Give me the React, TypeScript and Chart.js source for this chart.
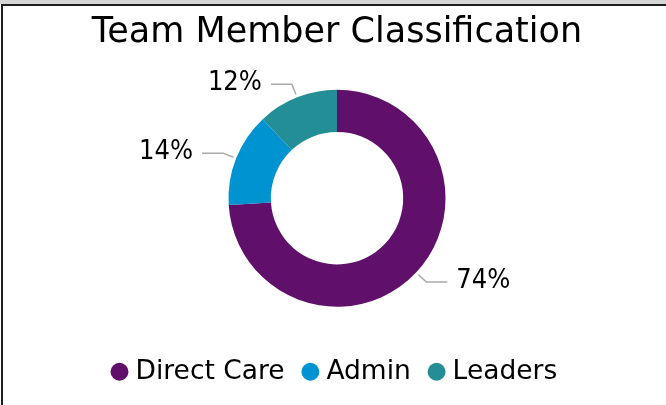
import React, { useEffect, useRef } from 'react';
import { Chart, registerables } from 'chart.js';

Chart.register(...registerables);

const categories = ['Direct Care', 'Admin', 'Leaders'];
const values = [74, 14, 12];
const colors = ['#60106A', '#0093D1', '#238E96'];
const titleText = 'Team Member Classification';

const FONT = '"DejaVu Sans", sans-serif';
const FONT_COND = '"DejaVu Sans Condensed", "DejaVu Sans", sans-serif';

const leaderPlugin = {
  id: 'leaderLabels',
  afterDatasetsDraw(chart: any) {
    const ctx = chart.ctx;
    const meta = chart.getDatasetMeta(0);
    const data = chart.data.datasets[0].data;
    ctx.save();
    meta.data.forEach((arc: any, i: number) => {
      const { x, y, startAngle, endAngle, outerRadius } = arc.getProps(
        ['x', 'y', 'startAngle', 'endAngle', 'outerRadius'],
        true
      );
      const mid = (startAngle + endAngle) / 2;
      const cos = Math.cos(mid);
      const sin = Math.sin(mid);
      const sx = x + cos * (outerRadius + 3);
      const sy = y + sin * (outerRadius + 3);
      const ex = x + cos * (outerRadius + 14);
      const ey = y + sin * (outerRadius + 14);
      const right = cos >= 0;
      const hx = ex + (right ? 21 : -21);
      ctx.strokeStyle = '#aaaaaa';
      ctx.lineWidth = 1.5;
      ctx.beginPath();
      ctx.moveTo(sx, sy);
      ctx.lineTo(ex, ey);
      ctx.lineTo(hx, ey);
      ctx.stroke();
      ctx.font = `27px ${FONT_COND}`;
      ctx.fillStyle = '#000';
      ctx.textAlign = right ? 'left' : 'right';
      ctx.textBaseline = 'middle';
      ctx.fillText(`${data[i]}%`, hx + (right ? 9 : -9), ey - 1.5);
    });
    ctx.restore();
  },
};

export default function App() {
  const canvasRef = useRef<HTMLCanvasElement | null>(null);

  useEffect(() => {
    document.body.style.margin = '0';
    const canvas = canvasRef.current;
    if (!canvas) return;
    const chart = new Chart(canvas, {
      type: 'doughnut',
      data: {
        labels: categories,
        datasets: [
          {
            data: values,
            backgroundColor: colors,
            borderWidth: 0,
            radius: 108.5,
            cutout: '61%',
          } as any,
        ],
      },
      options: {
        animation: false,
        responsive: false,
        maintainAspectRatio: false,
        layout: { padding: { left: 8, right: 0, top: 6, bottom: 10 } },
        plugins: {
          title: {
            display: true,
            text: titleText,
            color: '#000',
            font: { family: FONT, size: 35, weight: 'normal' },
            padding: { top: 6, bottom: 7 },
          },
          legend: {
            display: true,
            position: 'bottom',
            labels: {
              usePointStyle: true,
              pointStyle: 'circle',
              boxWidth: 5.5,
              boxHeight: 12.7,
              padding: 23,
              color: '#000',
              font: { family: FONT, size: 26.5 },
            },
          },
          tooltip: { enabled: false },
        },
      },
      plugins: [leaderPlugin],
    });
    return () => chart.destroy();
  }, []);

  return (
    <div style={{ position: 'relative', width: 666, height: 405, background: '#fff', overflow: 'hidden' }}>
      <div style={{ position: 'absolute', left: 0, top: 0, width: 666, height: 4, background: '#d6d6d6' }} />
      <div
        style={{
          position: 'absolute',
          left: 1,
          top: 4,
          width: 700,
          height: 420,
          borderTop: '2px solid #1e1e1e',
          borderLeft: '2px solid #1e1e1e',
          boxSizing: 'border-box',
        }}
      />
      <canvas
        ref={canvasRef}
        width={666}
        height={405}
        style={{ position: 'absolute', left: 0, top: 0, width: 666, height: 405 }}
      />
    </div>
  );
}
